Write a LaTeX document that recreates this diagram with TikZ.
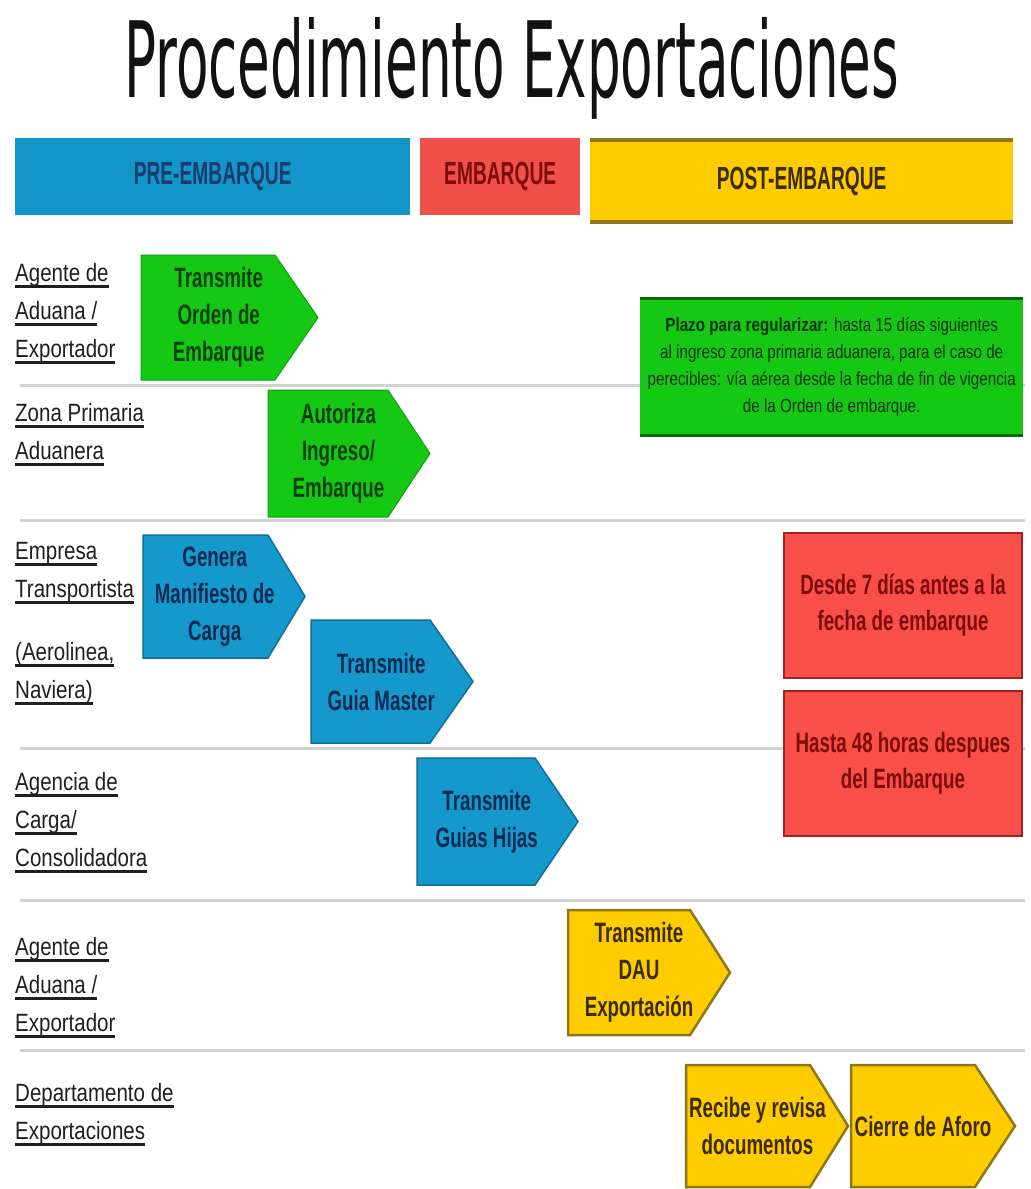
\documentclass[tikz,border=0pt]{standalone}
\usepackage{fontspec}
\usepackage{graphicx}
\setmainfont{Liberation Sans}
\newfontfamily\titlefont{DejaVu Sans}
\newfontfamily\stepfont[FakeStretch=0.67]{Liberation Sans}
\newfontfamily\hdrfont[FakeStretch=0.6]{Liberation Sans}
\newfontfamily\lanefont[FakeStretch=0.82]{Liberation Sans}
\newfontfamily\notefont[FakeStretch=0.8]{Liberation Sans}

\definecolor{hblue}{HTML}{1296CA}
\definecolor{hbluetxt}{HTML}{1B3C6E}
\definecolor{hred}{HTML}{F0504A}
\definecolor{hredtxt}{HTML}{7E0C0C}
\definecolor{hyel}{HTML}{FFCC00}
\definecolor{hyeltxt}{HTML}{3A2C00}
\definecolor{yedge}{HTML}{8C7818}
\definecolor{sgreen}{HTML}{14C814}
\definecolor{sgreentxt}{HTML}{0B3F0B}
\definecolor{gedge}{HTML}{0A6A0A}
\definecolor{sblue}{HTML}{1598CC}
\definecolor{bedge}{HTML}{0F6F98}
\definecolor{sbluetxt}{HTML}{0A2A52}
\definecolor{nred}{HTML}{F85048}
\definecolor{redge}{HTML}{A02424}
\definecolor{sepgray}{HTML}{D2D2D2}

% underlined lane text
\newsavebox\lubox
\newcommand\lu[1]{\sbox\lubox{#1}\rlap{\rule[-6.5pt]{\wd\lubox}{2.4pt}}\usebox\lubox}

% pentagon step: name, x, y, body width, height, tip, shape style, text style, text
\newcommand\stepshape[9]{%
  \path[#7] (#2,#3) -- ({#2+#4},#3) -- ({#2+#4+#6},{#3+#5/2})
    -- ({#2+#4},{#3+#5}) -- (#2,{#3+#5}) -- cycle;
  \node[steptext,#8] (#1) at ({#2+#4/2+#6/4},{#3+#5/2}) {#9};
}

\tikzset{
  % anchored at the baseline of the last line
  lane/.style={anchor=base west, inner sep=0pt, align=left, text=black!88,
    font=\lanefont\fontsize{25}{38}\selectfont},
  steptext/.style={align=center, inner sep=0pt,
    font=\stepfont\bfseries\fontsize{28}{37}\selectfont},
  hdr/.style={anchor=north west, inner sep=0pt,
    font=\hdrfont\bfseries\fontsize{32}{36}\selectfont},
  greenstep/.style={fill=sgreen, draw=sgreen!80!black, line width=1pt},
  bluestep/.style={fill=sblue, draw=bedge, line width=1.5pt},
  yelstep/.style={fill=hyel, draw=yedge, line width=2.5pt, line join=miter},
  sep/.style={draw=sepgray, line width=3pt},
  rednote/.style={anchor=north west, fill=nred, draw=redge, line width=2pt,
    minimum width=238pt, minimum height=145pt, align=center, text=hredtxt,
    font=\stepfont\bfseries\fontsize{28}{36}\selectfont, inner sep=0pt},
}

\begin{document}
\begin{tikzpicture}[x=1pt, y=-1pt]
\useasboundingbox[fill=white] (0,0) rectangle (1031,1189);

% title
\node[anchor=base west, inner sep=0pt, text=black!93] (title) at (124,97)
  {\resizebox{775pt}{80pt}{\titlefont Procedimiento Exportaciones}};

% phase headers
\node[hdr, fill=hblue, minimum width=395pt, minimum height=77pt, text=hbluetxt]
  (pre) at (15,138) {PRE-EMBARQUE};
\node[hdr, fill=hred, minimum width=160pt, minimum height=77pt, text=hredtxt]
  (emb) at (420,138) {EMBARQUE};
\node[hdr, fill=hyel, minimum width=423pt, minimum height=82pt, text=hyeltxt]
  (post) at (590,140) {POST-EMBARQUE};
\draw[yedge, line width=4pt] (post.north west) -- (post.north east);
\draw[yedge, line width=4pt] (post.south west) -- (post.south east);

% lane separators
\coordinate (s1a) at (20,385);  \coordinate (s1b) at (1025,385);
\coordinate (s2a) at (20,520);  \coordinate (s2b) at (1025,520);
\coordinate (s3a) at (20,748);  \coordinate (s3b) at (1025,748);
\coordinate (s4a) at (20,900);  \coordinate (s4b) at (1025,900);
\coordinate (s5a) at (20,1050); \coordinate (s5b) at (1025,1050);
\foreach \i in {1,...,5} { \draw[sep] (s\i a) -- (s\i b); }

% lane labels
\node[lane] (l1) at (15,357) {\lu{Agente de}\\\lu{Aduana /}\\\lu{Exportador}};
\node[lane] (l2) at (15,459) {\lu{Zona Primaria}\\\lu{Aduanera}};
\node[lane] (l3a) at (15,597) {\lu{Empresa}\\\lu{Transportista}};
\node[lane] (l3b) at (15,698) {\lu{(Aerolinea,}\\\lu{Naviera)}};
\node[lane] (l4) at (15,866) {\lu{Agencia de}\\\lu{Carga/}\\\lu{Consolidadora}};
\node[lane] (l5) at (15,1031) {\lu{Agente de}\\\lu{Aduana /}\\\lu{Exportador}};
\node[lane] (l6) at (15,1139) {\lu{Departamento de}\\\lu{Exportaciones}};

% process steps
\stepshape{orden}{141}{255}{134}{125}{43}{greenstep}{text=sgreentxt}{Transmite\\Orden de\\Embarque}
\stepshape{autoriza}{268}{390}{120}{127}{42}{greenstep}{text=sgreentxt}{Autoriza\\Ingreso/\\Embarque}
\stepshape{manif}{143}{535}{125}{123}{37}{bluestep}{text=sbluetxt}{Genera\\Manifiesto de\\Carga}
\stepshape{master}{311}{620}{119}{123}{43}{bluestep}{text=sbluetxt}{Transmite\\Guia Master}
\stepshape{hijas}{417}{758}{118}{127}{43}{bluestep}{text=sbluetxt}{Transmite\\Guias Hijas}
\stepshape{dau}{568}{910}{122}{125}{40}{yelstep}{text=hyeltxt}{Transmite\\DAU\\Exportación}
\stepshape{revisa}{686}{1065}{124}{122}{38}{yelstep}{text=hyeltxt}{Recibe y revisa\\documentos}
\stepshape{aforo}{851}{1065}{124}{122}{40}{yelstep}{text=hyeltxt}{Cierre de Aforo}

% deadline notes
\node[anchor=north west, fill=sgreen, minimum width=383pt, minimum height=137pt,
  inner sep=0pt, align=center, text=sgreentxt!80!black,
  font=\notefont\fontsize{19}{27}\selectfont] (plazo) at (640,298)
  {\textbf{Plazo para regularizar:} hasta 15 días siguientes\\
   al ingreso zona primaria aduanera, para el caso de\\
   perecibles: vía aérea desde la fecha de fin de vigencia\\
   de la Orden de embarque.};
\draw[gedge, line width=3pt] (plazo.north west) -- (plazo.north east);
\draw[gedge, line width=3pt] (plazo.south west) -- (plazo.south east);

\node[rednote] (antes) at (783,532) {Desde 7 días antes a la\\fecha de embarque};
\node[rednote] (despues) at (783,690) {Hasta 48 horas despues\\del Embarque};
\end{tikzpicture}
\end{document}
